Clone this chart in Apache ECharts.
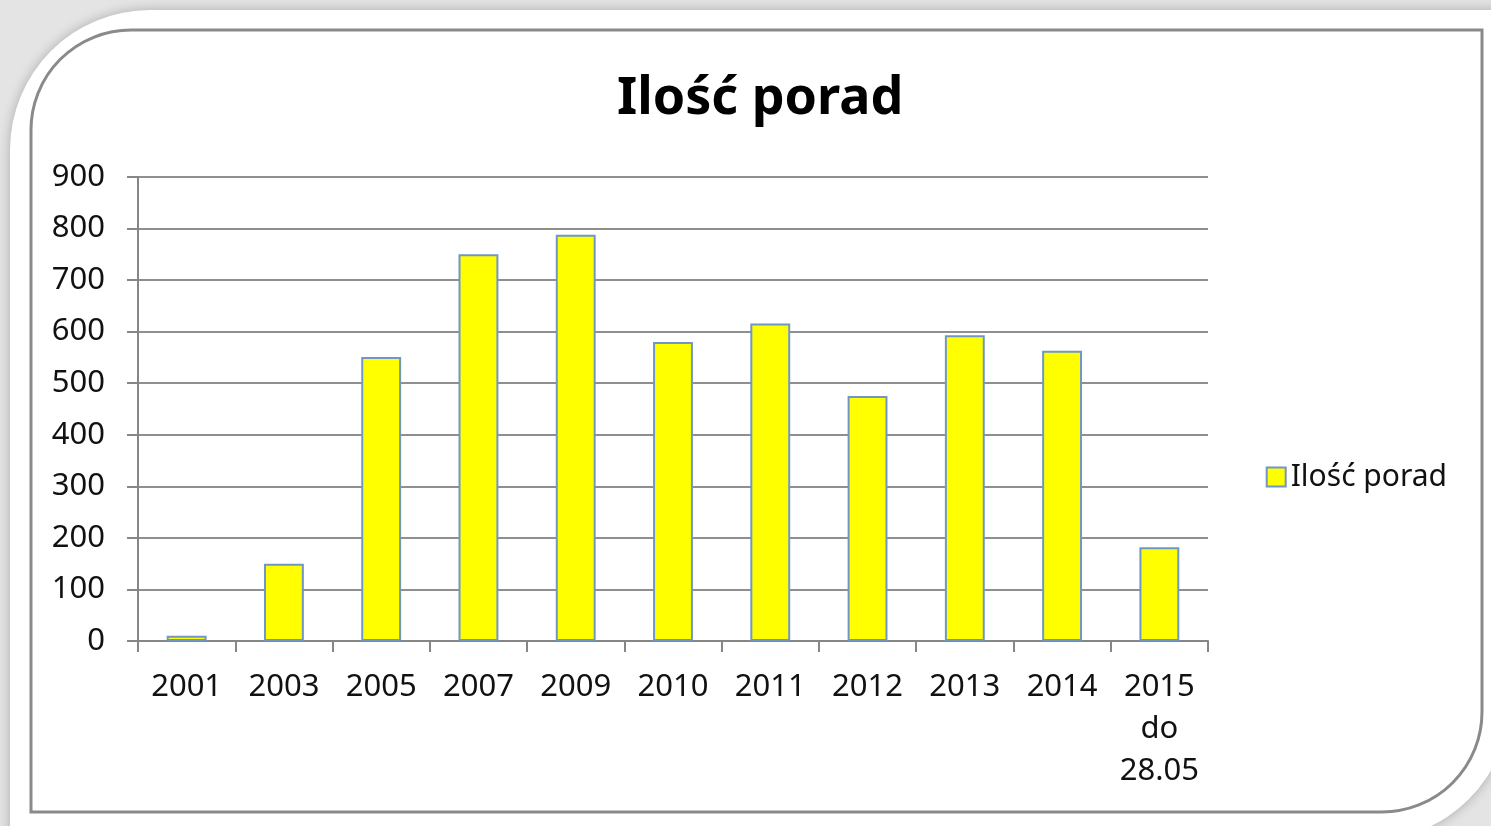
<!DOCTYPE html>
<html>
<head>
<meta charset="utf-8">
<script src="https://cdn.jsdelivr.net/npm/echarts@6/dist/echarts.min.js"></script>
<style>
  html, body { margin: 0; padding: 0; background: #e4e4e4; }
  #main { width: 1491px; height: 826px; }
</style>
</head>
<body>
<div id="main"></div>
<script>
// dane z wykresu
var years = ['2001', '2003', '2005', '2007', '2009', '2010', '2011', '2012', '2013', '2014', '2015\ndo\n28.05'];
var porady = [10, 150, 551, 750, 788, 580, 616, 475, 593, 563, 182];
var seriesName = 'Ilość porad';
var yMax = 900;
var yStep = 100;

var chart = echarts.init(document.getElementById('main'));
var font = '"Noto Sans", "DejaVu Sans", sans-serif';

chart.setOption({
    animation: false,
    backgroundColor: 'transparent',
    graphic: [
        // biała karta z zaokrąglonymi rogami
        {
            type: 'rect', z: -10,
            shape: { x: 10, y: 10, width: 1500, height: 830, r: [140, 0, 140, 0] },
            style: { fill: '#ffffff', shadowBlur: 12, shadowColor: 'rgba(0,0,0,0.25)' }
        },
        // ramka wykresu
        {
            type: 'rect', z: -9,
            shape: { x: 31, y: 30, width: 1451, height: 782, r: [100, 0, 100, 0] },
            style: { fill: 'none', stroke: '#8a8a8a', lineWidth: 3 }
        }
    ],
    title: {
        text: 'Ilość porad',
        left: 612,
        top: 68,
        textStyle: { fontFamily: font, fontSize: 52, fontWeight: 'bold', color: '#000' }
    },
    legend: {
        data: [seriesName],
        icon: 'rect',
        right: 39,
        top: 457,
        itemWidth: 19,
        itemHeight: 19,
        itemGap: 6,
        textStyle: { fontFamily: font, fontSize: 30, color: '#111' }
    },
    grid: { left: 138, right: 283, top: 177, bottom: 185 },
    xAxis: {
        type: 'category',
        data: years,
        axisLine: { lineStyle: { color: '#868686', width: 2 } },
        axisTick: { show: true, length: 11, lineStyle: { color: '#868686', width: 2 } },
        axisLabel: {
            fontFamily: font, fontSize: 31, color: '#111',
            lineHeight: 42, margin: 25, interval: 0
        }
    },
    yAxis: {
        type: 'value',
        min: 0,
        max: yMax,
        interval: yStep,
        axisLine: { show: true, lineStyle: { color: '#868686', width: 2 } },
        axisTick: { show: true, length: 11, lineStyle: { color: '#868686', width: 2 } },
        axisLabel: { fontFamily: font, fontSize: 31, color: '#111', margin: 33 },
        splitLine: { lineStyle: { color: '#8f8f8f', width: 2 } }
    },
    series: [
        {
            name: seriesName,
            type: 'bar',
            data: porady,
            barWidth: '41%',
            itemStyle: { color: '#ffff00', borderColor: '#7096c8', borderWidth: 2 }
        }
    ]
});
</script>
</body>
</html>
